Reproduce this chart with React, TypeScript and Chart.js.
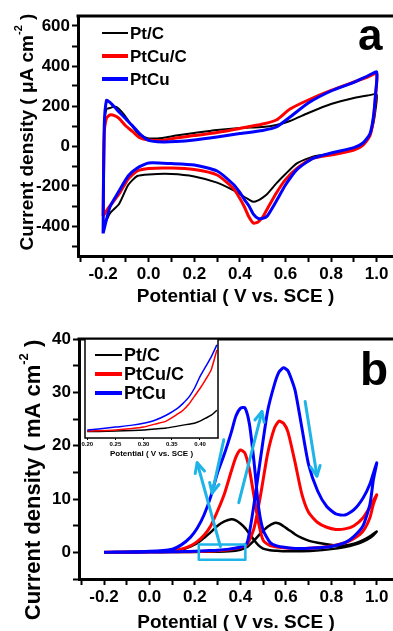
import React, { useEffect, useRef } from 'react';
import { Chart, registerables } from 'chart.js';

Chart.register(...registerables);

const FONT = 'Liberation Sans, Arial, Helvetica, sans-serif';

// ---------- series ----------
const SERIES = ['Pt/C', 'PtCu/C', 'PtCu'];
const COLORS = ['#000000', '#ff0000', '#0000ff'];

// ---------- panel a : CV in acid (μA cm-2) ----------
const cvAnodicE = [-0.2, -0.195, -0.185, -0.17, -0.15, -0.13, -0.1, -0.07, -0.04, 0.0, 0.06, 0.12, 0.2, 0.3, 0.4, 0.5, 0.56, 0.62, 0.7, 0.8, 0.9, 0.96, 1.0];
const ptcAnodic = [-410, 100, 185, 190, 197, 185, 145, 95, 55, 38, 40, 52, 65, 80, 90, 95, 105, 125, 165, 210, 240, 252, 258];
const ptcuCAnodic = [-350, 60, 140, 155, 152, 138, 100, 72, 42, 30, 28, 40, 52, 68, 88, 110, 130, 185, 230, 278, 320, 345, 362];
const ptcuAnodic = [-437, 100, 228, 218, 195, 170, 135, 100, 62, 28, 20, 22, 30, 45, 62, 78, 95, 145, 215, 275, 318, 350, 370];

const cvCathodicE = [0.995, 0.985, 0.97, 0.94, 0.9, 0.8, 0.72, 0.65, 0.6, 0.56, 0.52, 0.5, 0.48, 0.46, 0.44, 0.42, 0.4, 0.37, 0.3, 0.2, 0.1, 0.0, -0.05, -0.09, -0.13, -0.17, -0.2];
const ptcCathodic = [180, 110, 55, 13, -15, -38, -53, -87, -140, -187, -240, -258, -272, -279, -268, -255, -240, -220, -183, -152, -140, -142, -150, -195, -290, -337, -410];
const ptcuCCathodic = [250, 130, 50, 5, -20, -45, -62, -112, -168, -235, -315, -355, -380, -386, -355, -305, -262, -210, -145, -118, -110, -112, -125, -165, -240, -300, -350];
const ptcuCathodic = [260, 140, 60, 15, -8, -35, -62, -118, -195, -275, -350, -362, -362, -342, -300, -268, -232, -190, -125, -95, -88, -85, -110, -150, -225, -305, -437];

// ---------- panel b : methanol oxidation (mA cm-2) ----------
const lsvForwardE = [-0.2, -0.1, 0.0, 0.1, 0.15, 0.2, 0.25, 0.3, 0.35, 0.4, 0.43, 0.46, 0.49, 0.52, 0.55, 0.57, 0.59, 0.61, 0.64, 0.67, 0.7, 0.74, 0.78, 0.82, 0.86, 0.9, 0.94, 0.97, 1.0];
const ptcForward = [0, 0, 0.05, 0.05, 0.05, 0.08, 0.1, 0.12, 0.2, 0.5, 1.0, 2.2, 3.6, 4.8, 5.5, 5.4, 4.9, 4.3, 3.4, 2.7, 2.2, 1.8, 1.5, 1.3, 1.3, 1.6, 2.3, 3.0, 3.9];
const ptcuCForward = [0, 0, 0.05, 0.1, 0.1, 0.15, 0.2, 0.3, 0.5, 0.9, 1.5, 4.5, 11, 18.5, 23.3, 24.6, 24.2, 22.5, 17, 11, 7.5, 5.6, 4.7, 4.3, 4.4, 5.0, 6.5, 8.5, 10.8];
const ptcuForward = [0, 0, 0.05, 0.1, 0.15, 0.2, 0.3, 0.4, 0.6, 1.0, 1.8, 9, 18, 26.5, 31.5, 33.8, 34.6, 34, 30.5, 23.5, 16.5, 11.5, 8.6, 7.2, 7.0, 8.0, 10.2, 12.8, 16.8];

const lsvBackwardE = [0.985, 0.97, 0.94, 0.9, 0.86, 0.8, 0.72, 0.65, 0.6, 0.56, 0.53, 0.5, 0.48, 0.46, 0.44, 0.42, 0.4, 0.38, 0.36, 0.33, 0.3, 0.27, 0.24, 0.21, 0.18, 0.14, 0.1, 0.0, -0.2];
const ptcBackward = [3.2, 2.7, 2.0, 1.4, 1.0, 0.6, 0.3, 0.2, 0.2, 0.3, 0.4, 0.7, 1.3, 2.3, 3.5, 4.6, 5.4, 6.0, 6.2, 5.8, 5.0, 3.8, 2.7, 1.7, 1.1, 0.5, 0.2, 0.1, 0];
const ptcuCBackward = [9.0, 6.5, 4.0, 2.6, 1.8, 1.2, 0.8, 0.7, 0.8, 1.0, 1.3, 2.3, 5.5, 10.5, 15.5, 18.6, 19.2, 17.8, 15.2, 11, 7.8, 5, 3.2, 2.0, 1.2, 0.6, 0.3, 0.1, 0];
const ptcuBackward = [13.5, 9, 5, 3, 1.8, 1.1, 0.8, 0.7, 0.9, 1.2, 1.9, 4.2, 8.5, 17, 24, 27.1, 27.0, 25.5, 22.5, 18.5, 15, 10.5, 7, 4.5, 2.8, 1.4, 0.6, 0.2, 0];

// inset (onset region, 0.20–0.43 V)
const insetE = [0.2, 0.22, 0.25, 0.28, 0.3, 0.32, 0.34, 0.36, 0.37, 0.38, 0.39, 0.4, 0.41, 0.42, 0.43];
const insetPtc = [0.065, 0.066, 0.07, 0.075, 0.08, 0.09, 0.1, 0.12, 0.13, 0.14, 0.15, 0.17, 0.2, 0.23, 0.28];
const insetPtcuC = [0.07, 0.072, 0.08, 0.095, 0.11, 0.14, 0.17, 0.24, 0.28, 0.34, 0.42, 0.5, 0.59, 0.69, 0.89];
const insetPtcu = [0.08, 0.09, 0.11, 0.13, 0.15, 0.18, 0.23, 0.3, 0.35, 0.41, 0.5, 0.62, 0.72, 0.82, 0.94];

// annotations in panel b (data coordinates)
const arrowStartE = [0.312, 0.327, 0.393, 0.685];
const arrowStartJ = [1.1, 21.1, 9.3, 28.3];
const arrowEndE = [0.21, 0.276, 0.495, 0.737];
const arrowEndJ = [16.8, 11.1, 26.4, 14.3];
const boxE = [0.217, 0.422];
const boxJ = [-1.4, 1.45];

// ---------- ticks ----------
const xMajor = [-0.2, 0, 0.2, 0.4, 0.6, 0.8, 1.0];
const xMajorLabels = ['-0.2', '0.0', '0.2', '0.4', '0.6', '0.8', '1.0'];
const xMinor = [-0.3, -0.1, 0.1, 0.3, 0.5, 0.7, 0.9];
const yMajorA = [-400, -200, 0, 200, 400, 600];
const yMajorALabels = ['-400', '-200', '0', '200', '400', '600'];
const yMinorA = [-500, -300, -100, 100, 300, 500];
const yMajorB = [0, 10, 20, 30, 40];
const yMajorBLabels = ['0', '10', '20', '30', '40'];
const yMinorB = [-5, 5, 15, 25, 35];
const insetTicks = [0.2, 0.25, 0.3, 0.35, 0.4];
const insetTickLabels = ['0.20', '0.25', '0.30', '0.35', '0.40'];

// ---------- helpers ----------
const pts = (xs: number[], ys: number[]) => xs.map((x, i) => ({ x, y: ys[i] }));
const labelFor = (majors: number[], labels: string[]) => (v: number) => {
  const i = majors.findIndex((m) => Math.abs(m - v) < 1e-9);
  return i >= 0 ? labels[i] : '';
};
const setTicks = (vals: number[]) => (s: any) => {
  s.ticks = [...vals].sort((a, b) => a - b).map((v) => ({ value: v }));
};

function xAxis(o: { min: number; max: number; height: number; titleLH: number; titlePad: number }) {
  return {
    type: 'linear',
    min: o.min,
    max: o.max,
    bounds: 'data',
    afterBuildTicks: setTicks([...xMajor, ...xMinor]),
    afterFit: (s: any) => { s.height = o.height; },
    ticks: {
      callback: labelFor(xMajor, xMajorLabels),
      color: '#000',
      font: { family: FONT, size: 17, weight: 'bold' },
      padding: 2,
      maxRotation: 0,
      minRotation: 0,
      autoSkip: false,
    },
    grid: { drawOnChartArea: false, drawTicks: true, tickLength: 6, tickWidth: 2, tickColor: '#000' },
    border: { display: true, color: '#000', width: 3 },
    title: {
      display: true,
      text: 'Potential ( V vs. SCE )',
      color: '#000',
      font: { family: FONT, size: 19, weight: 'bold', lineHeight: o.titleLH },
      padding: { top: 0, bottom: o.titlePad },
    },
  };
}

function yAxis(o: { min: number; max: number; width: number; majors: number[]; labels: string[]; minors: number[] }) {
  return {
    type: 'linear',
    min: o.min,
    max: o.max,
    bounds: 'data',
    afterBuildTicks: setTicks([...o.majors, ...o.minors]),
    afterFit: (s: any) => { s.width = o.width; },
    ticks: {
      callback: labelFor(o.majors, o.labels),
      color: '#000',
      font: { family: FONT, size: 17, weight: 'bold' },
      padding: 2,
      autoSkip: false,
    },
    grid: { drawOnChartArea: false, drawTicks: true, tickLength: 6, tickWidth: 2, tickColor: '#000' },
    border: { display: true, color: '#000', width: 3 },
    title: { display: false },
  };
}

const topFrame = {
  id: 'topFrame',
  afterDraw(chart: any) {
    const { ctx, chartArea: a } = chart;
    ctx.save();
    ctx.strokeStyle = '#000';
    ctx.lineWidth = 3;
    ctx.beginPath();
    ctx.moveTo(a.left - 1.5, a.top);
    ctx.lineTo(a.right + 2, a.top);
    ctx.stroke();
    ctx.restore();
  },
};

function yTitle(id: string, main: string, sup: string, tail: string, cx: number, cy: number, size: number) {
  return {
    id,
    afterDraw(chart: any) {
      const ctx = chart.ctx;
      ctx.save();
      ctx.fillStyle = '#000';
      const f = `bold ${size}px ${FONT}`;
      const fs = `bold ${Math.round(size * 0.6)}px ${FONT}`;
      ctx.font = f;
      const w1 = ctx.measureText(main).width;
      const w3 = ctx.measureText(tail).width;
      ctx.font = fs;
      const w2 = ctx.measureText(sup).width;
      const total = w1 + w2 + w3;
      ctx.translate(cx, cy);
      ctx.rotate(-Math.PI / 2);
      ctx.textBaseline = 'middle';
      ctx.textAlign = 'left';
      let x = -total / 2;
      ctx.font = f;
      ctx.fillText(main, x, 0);
      x += w1;
      ctx.font = fs;
      ctx.fillText(sup, x, -size * 0.45);
      x += w2;
      ctx.font = f;
      ctx.fillText(tail, x, 0);
      ctx.restore();
    },
  };
}

function legendPlugin(id: string, x0: number, x1: number, rows: number[], size: number, widths: number[]) {
  return {
    id,
    afterDraw(chart: any) {
      const ctx = chart.ctx;
      ctx.save();
      chart.data.datasets.forEach((ds: any, i: number) => {
        ctx.strokeStyle = ds.borderColor;
        ctx.lineWidth = widths[i];
        ctx.beginPath();
        ctx.moveTo(x0, rows[i]);
        ctx.lineTo(x1, rows[i]);
        ctx.stroke();
        ctx.fillStyle = '#000';
        ctx.font = `bold ${size}px ${FONT}`;
        ctx.textBaseline = 'middle';
        ctx.textAlign = 'left';
        ctx.fillText(ds.label, x1 + 2, rows[i] + 1);
      });
      ctx.restore();
    },
  };
}

function letterPlugin(id: string, text: string, x: number, y: number, size: number) {
  return {
    id,
    afterDraw(chart: any) {
      const ctx = chart.ctx;
      ctx.save();
      ctx.fillStyle = '#000';
      ctx.font = `bold ${size}px ${FONT}`;
      ctx.textBaseline = 'alphabetic';
      ctx.textAlign = 'left';
      ctx.fillText(text, x, y);
      ctx.restore();
    },
  };
}

const annotations = {
  id: 'annotations',
  afterDatasetsDraw(chart: any) {
    const { ctx, scales } = chart;
    const X = (v: number) => scales.x.getPixelForValue(v);
    const Y = (v: number) => scales.y.getPixelForValue(v);
    ctx.save();
    ctx.strokeStyle = '#1eb4e8';
    ctx.lineCap = 'round';
    ctx.lineJoin = 'round';
    // box
    ctx.lineWidth = 2.5;
    ctx.strokeRect(X(boxE[0]), Y(boxJ[1]), X(boxE[1]) - X(boxE[0]), Y(boxJ[0]) - Y(boxJ[1]));
    // arrows
    ctx.lineWidth = 3;
    arrowStartE.forEach((e, i) => {
      const x0 = X(e), y0 = Y(arrowStartJ[i]);
      const x1 = X(arrowEndE[i]), y1 = Y(arrowEndJ[i]);
      const ang = Math.atan2(y1 - y0, x1 - x0);
      ctx.beginPath();
      ctx.moveTo(x0, y0);
      ctx.lineTo(x1, y1);
      ctx.stroke();
      const L = 11, w = 0.45;
      ctx.beginPath();
      ctx.moveTo(x1 - L * Math.cos(ang - w), y1 - L * Math.sin(ang - w));
      ctx.lineTo(x1, y1);
      ctx.lineTo(x1 - L * Math.cos(ang + w), y1 - L * Math.sin(ang + w));
      ctx.stroke();
    });
    ctx.restore();
  },
};

const whiteArea = {
  id: 'whiteArea',
  beforeDraw(chart: any) {
    const { ctx, chartArea: a } = chart;
    ctx.save();
    ctx.fillStyle = '#fff';
    ctx.fillRect(a.left, a.top, a.right - a.left, a.bottom - a.top);
    ctx.restore();
  },
};
const insetFrame = {
  id: 'insetFrame',
  afterDraw(chart: any) {
    const { ctx, chartArea: a } = chart;
    ctx.save();
    ctx.strokeStyle = '#000';
    ctx.lineWidth = 1.5;
    ctx.strokeRect(a.left, a.top, a.right - a.left, a.bottom - a.top);
    ctx.restore();
  },
};

const lineDs = (label: string, data: any[], color: string, width: number, order: number) => ({
  label,
  data,
  showLine: true,
  borderColor: color,
  backgroundColor: color,
  borderWidth: width,
  pointRadius: 0,
  pointHoverRadius: 0,
  tension: 0.2,
  fill: false,
  order,
});

const baseOptions = {
  responsive: false,
  animation: false,
  events: [],
  plugins: { legend: { display: false }, tooltip: { enabled: false } },
};

const X_MIN = -0.31;
const X_MAX = 1.0716;

function panelAConfig(): any {
  return {
    type: 'scatter',
    data: {
      datasets: [
        lineDs(SERIES[0], [...pts(cvAnodicE, ptcAnodic), ...pts(cvCathodicE, ptcCathodic)], COLORS[0], 2, 2),
        lineDs(SERIES[1], [...pts(cvAnodicE, ptcuCAnodic), ...pts(cvCathodicE, ptcuCCathodic)], COLORS[1], 3, 1),
        lineDs(SERIES[2], [...pts(cvAnodicE, ptcuAnodic), ...pts(cvCathodicE, ptcuCathodic)], COLORS[2], 3, 0),
      ],
    },
    options: {
      ...baseOptions,
      layout: { padding: { top: 16, left: 0, right: 0, bottom: 0 }, autoPadding: false },
      scales: {
        x: xAxis({ min: X_MIN, max: X_MAX, height: 54, titleLH: 1, titlePad: 4 }),
        y: yAxis({ min: -550, max: 650, width: 78, majors: yMajorA, labels: yMajorALabels, minors: yMinorA }),
      },
    },
    plugins: [
      topFrame,
      legendPlugin('legendA', 102, 128, [33, 56, 79], 17, [2, 4, 4]),
      yTitle('yTitleA', 'Current density ( μA cm', '-2', ' )', 28, 132, 19),
      letterPlugin('letterA', 'a', 358, 50, 44),
    ],
  };
}

function panelBConfig(): any {
  return {
    type: 'scatter',
    data: {
      datasets: [
        lineDs(SERIES[0], [...pts(lsvForwardE, ptcForward), ...pts(lsvBackwardE, ptcBackward)], COLORS[0], 2.5, 2),
        lineDs(SERIES[1], [...pts(lsvForwardE, ptcuCForward), ...pts(lsvBackwardE, ptcuCBackward)], COLORS[1], 3, 1),
        lineDs(SERIES[2], [...pts(lsvForwardE, ptcuForward), ...pts(lsvBackwardE, ptcuBackward)], COLORS[2], 3, 0),
      ],
    },
    options: {
      ...baseOptions,
      layout: { padding: { top: 29, left: 0, right: 0, bottom: 0 }, autoPadding: false },
      scales: {
        x: xAxis({ min: X_MIN, max: X_MAX, height: 52, titleLH: 0.9, titlePad: 0 }),
        y: yAxis({ min: -5, max: 40, width: 79, majors: yMajorB, labels: yMajorBLabels, minors: yMinorB }),
      },
    },
    plugins: [
      topFrame,
      annotations,
      yTitle('yTitleB', 'Current density ( mA cm', '-2', ' )', 34, 170, 22),
      letterPlugin('letterB', 'b', 360, 75, 46),
    ],
  };
}

function insetConfig(): any {
  return {
    type: 'scatter',
    data: {
      datasets: [
        lineDs(SERIES[0], pts(insetE, insetPtc), COLORS[0], 1.5, 2),
        lineDs(SERIES[1], pts(insetE, insetPtcuC), COLORS[1], 1.5, 1),
        lineDs(SERIES[2], pts(insetE, insetPtcu), COLORS[2], 1.5, 0),
      ],
    },
    options: {
      ...baseOptions,
      layout: { padding: { top: 2, left: 10, right: 7, bottom: 0 }, autoPadding: false },
      scales: {
        x: {
          type: 'linear',
          min: 0.196,
          max: 0.432,
          bounds: 'data',
          afterBuildTicks: setTicks(insetTicks),
          afterFit: (s: any) => { s.height = 24; },
          ticks: {
            callback: labelFor(insetTicks, insetTickLabels),
            color: '#000',
            font: { family: FONT, size: 6, weight: 'bold' },
            padding: 1,
            maxRotation: 0,
            minRotation: 0,
            autoSkip: false,
          },
          grid: { drawOnChartArea: false, drawTicks: true, tickLength: 2, tickWidth: 1, tickColor: '#000' },
          border: { display: false },
          title: {
            display: true,
            text: 'Potential ( V vs. SCE )',
            color: '#000',
            font: { family: FONT, size: 8, weight: 'bold' },
            padding: { top: 0, bottom: 3 },
          },
        },
        y: { type: 'linear', min: 0, max: 1, display: false },
      },
    },
    plugins: [whiteArea, insetFrame, legendPlugin('legendInset', 20, 47, [18, 37, 56], 18, [2, 4, 4])],
  };
}

function ChartCanvas({ make, width, height }: { make: () => any; width: number; height: number }) {
  const ref = useRef<HTMLCanvasElement | null>(null);
  useEffect(() => {
    if (!ref.current) return;
    const chart = new Chart(ref.current, make());
    return () => chart.destroy();
  }, []);
  return <canvas ref={ref} width={width} height={height} style={{ display: 'block', width, height }} />;
}

export default function App() {
  return (
    <div style={{ position: 'absolute', left: 0, top: 0, width: 393, height: 631, overflow: 'hidden', background: '#fff' }}>
      <div style={{ position: 'absolute', left: 0, top: 0 }}>
        <ChartCanvas make={panelAConfig} width={393} height={310} />
      </div>
      <div style={{ position: 'absolute', left: 0, top: 310 }}>
        <ChartCanvas make={panelBConfig} width={393} height={321} />
      </div>
      <div style={{ position: 'absolute', left: 75, top: 337 }}>
        <ChartCanvas make={insetConfig} width={150} height={125} />
      </div>
    </div>
  );
}
